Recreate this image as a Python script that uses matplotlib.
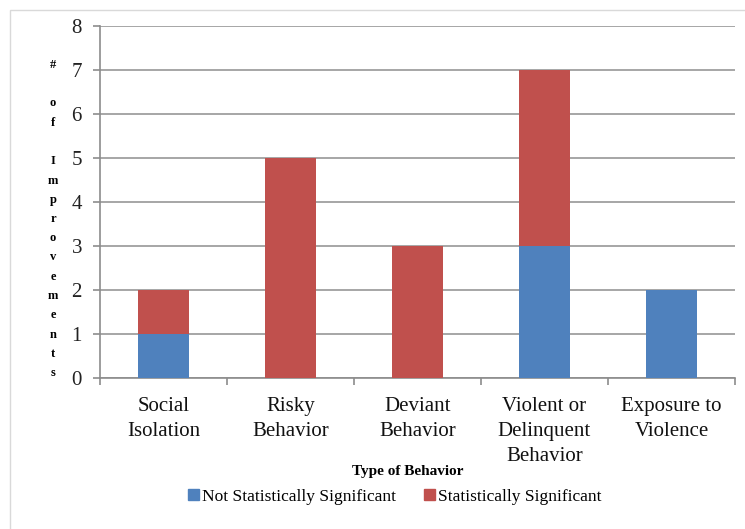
import matplotlib
matplotlib.use("Agg")
import matplotlib.pyplot as plt
from matplotlib.patches import Rectangle, Patch
import numpy as np

categories = ["Social\nIsolation", "Risky\nBehavior", "Deviant\nBehavior",
              "Violent or\nDelinquent\nBehavior", "Exposure to\nViolence"]
not_significant = [1, 0, 0, 3, 2]
significant = [1, 5, 3, 4, 0]
series_names = ["Not Statistically Significant", "Statistically Significant"]
y_ticks = [0, 1, 2, 3, 4, 5, 6, 7, 8]
y_label = "# of Improvements"
x_label = "Type of Behavior"

blue = "#4F81BD"
red = "#C0504D"
serif = ["Liberation Serif", "DejaVu Serif"]
plt.rcParams["font.family"] = serif

W, H = 745, 529
fig = plt.figure(figsize=(W / 100, H / 100), dpi=100)

# outer chart border (cropped)
fig.patches.append(Rectangle((10 / W, -0.1), 1.2, 1 - 10 / H + 0.1,
                             transform=fig.transFigure, fill=False,
                             edgecolor="#d9d9d9", linewidth=1.0))

ax = fig.add_axes([100 / W, 1 - 378 / H, 635 / W, 352 / H])
x = np.arange(len(categories))
bw = 0.405
ax.bar(x, not_significant, bw, color=blue, zorder=3, label=series_names[0])
ax.bar(x, significant, bw, bottom=not_significant, color=red, zorder=3,
       label=series_names[1])

ax.set_xlim(-0.5, len(categories) - 0.5)
ax.set_ylim(0, 8)
ax.set_yticks(y_ticks)
ax.yaxis.grid(True, color="#a6a6a6", linewidth=1.4, zorder=0)
ax.set_axisbelow(True)

for s in ["top", "right"]:
    ax.spines[s].set_visible(False)
ax.spines["left"].set_color("#8c8c8c")
ax.spines["bottom"].set_color("#8c8c8c")
ax.spines["left"].set_linewidth(1.2)
ax.spines["bottom"].set_linewidth(1.2)

ax.tick_params(axis="y", length=5, width=1.2, color="#8c8c8c", pad=8,
               labelsize=15, labelcolor="#222222")
ax.set_xticks(x)
ax.set_xticklabels(categories, fontsize=15, color="#111111", linespacing=1.42)
ax.tick_params(axis="x", which="major", length=0, pad=14)
ax.set_xticks(np.arange(-0.5, len(categories), 1.0), minor=True)
ax.tick_params(axis="x", which="minor", length=5, width=1.2, color="#8c8c8c")

# stacked vertical y-axis label: one character per line
chars = list(y_label)
top_px, bot_px = 65, 373
step = (bot_px - top_px) / (len(chars) - 1)
for i, ch in enumerate(chars):
    if ch.strip():
        fig.text(53 / W, 1 - (top_px + i * step) / H, ch, ha="center",
                 va="center", fontsize=9, fontweight="bold")

fig.text(408 / W, 1 - 472 / H, x_label, ha="center", va="center",
         fontsize=11, fontweight="bold")

handles = [Patch(color=blue), Patch(color=red)]
fig.legend(handles, series_names, loc="center", ncol=2, frameon=False,
           bbox_to_anchor=(395 / W, 1 - 497 / H), fontsize=12.5,
           handlelength=0.6, handleheight=0.6, handletextpad=0.2,
           columnspacing=1.6, borderaxespad=0)

fig.savefig("out.png", dpi=100)
